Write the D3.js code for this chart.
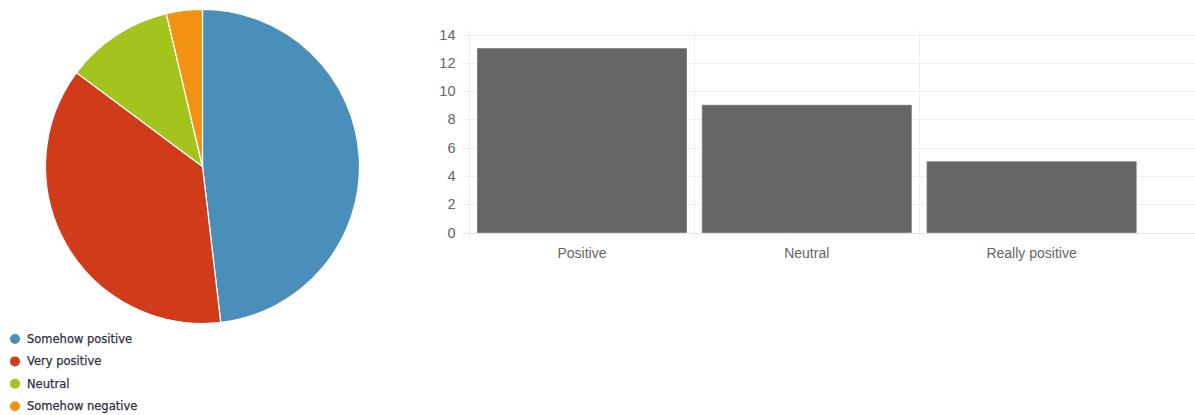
<!DOCTYPE html>
<html>
<head>
<meta charset="utf-8">
<script src="https://cdn.jsdelivr.net/npm/d3@7"></script>
<style>
  html, body { margin: 0; padding: 0; background: #fff; }
  svg { display: block; }
</style>
</head>
<body>
<svg id="chart" width="1195" height="415"></svg>
<script>
// ---- data ----
const pieCategories = ["Somehow positive", "Very positive", "Neutral", "Somehow negative"];
const pieValues = [13, 10, 3, 1];
const pieColors = ["#4a8fba", "#d03c19", "#a3c41d", "#f39111"];

const barCategories = ["Positive", "Neutral", "Really positive"];
const barValues = [13, 9, 5];
const yTicks = [0, 2, 4, 6, 8, 10, 12, 14];

// ---- drawing ----
const svg = d3.select("#chart");

// Pie
const pieG = svg.append("g").attr("transform", "translate(202.5,166.5)");
const pie = d3.pie().sort(null).value(d => d)(pieValues);
const arc = d3.arc().innerRadius(0).outerRadius(157);
pieG.selectAll("path").data(pie).join("path")
  .attr("d", arc)
  .attr("fill", (d, i) => pieColors[i])
  .attr("stroke", "#fff")
  .attr("stroke-width", 1.2);

// Legend
const legend = svg.append("g").attr("transform", "translate(15,339)");
const lg = legend.selectAll("g").data(pieCategories).join("g")
  .attr("transform", (d, i) => `translate(0,${i * 22.4})`);
lg.append("circle").attr("r", 5).attr("fill", (d, i) => pieColors[i]);
lg.append("text").attr("x", 12).attr("dy", "0.35em")
  .attr("font-family", "DejaVu Sans, Verdana, sans-serif")
  .attr("font-size", 11.5)
  .attr("fill", "#2f3040")
  .attr("stroke", "#2f3040").attr("stroke-width", 0.25)
  .text(d => d);

// Bar chart
const x0 = 469.5, x1 = 1144, yTop = 34.5, yBot = 232.5;
const x = d3.scaleBand().domain(barCategories).range([x0, x1]).paddingInner(0.07).paddingOuter(0.035);
const y = d3.scaleLinear().domain([0, 14]).range([yBot, yTop]);

const bar = svg.append("g");
// horizontal grid
bar.append("g").selectAll("line").data(yTicks).join("line")
  .attr("x1", x0 - 7).attr("x2", 1195)
  .attr("y1", d => Math.round(y(d)) + 0.5).attr("y2", d => Math.round(y(d)) + 0.5)
  .attr("stroke", d => d === 0 ? "#e4e4e4" : "#efefef").attr("stroke-width", 1);
// vertical grid (band starts)
const bandStarts = barCategories.map(c => x(c) - x.step() * x.paddingInner() / 2);
bar.append("g").selectAll("line").data(bandStarts).join("line")
  .attr("x1", d => Math.round(d) + 0.5).attr("x2", d => Math.round(d) + 0.5)
  .attr("y1", yTop - 4).attr("y2", yBot + 8)
  .attr("stroke", "#efefef").attr("stroke-width", 1);

// y labels
bar.append("g").selectAll("text").data(yTicks).join("text")
  .attr("x", x0 - 14).attr("y", d => y(d)).attr("dy", "0.35em")
  .attr("text-anchor", "end")
  .attr("font-family", "Liberation Sans, Arial, Helvetica, sans-serif")
  .attr("font-size", 14.5).attr("fill", "#666")
  .text(d => d);

// bars
bar.append("g").selectAll("rect").data(barValues).join("rect")
  .attr("x", (d, i) => x(barCategories[i]))
  .attr("width", x.bandwidth())
  .attr("y", d => y(d))
  .attr("height", d => y(0) - y(d))
  .attr("fill", "#656565")
  .attr("stroke", "#7a7a7a").attr("stroke-width", 0.8);

// x labels
bar.append("g").selectAll("text").data(barCategories).join("text")
  .attr("x", d => x(d) + x.bandwidth() / 2).attr("y", 258)
  .attr("text-anchor", "middle")
  .attr("font-family", "Liberation Sans, Arial, Helvetica, sans-serif")
  .attr("font-size", 14).attr("fill", "#666")
  .text(d => d);
</script>
</body>
</html>
